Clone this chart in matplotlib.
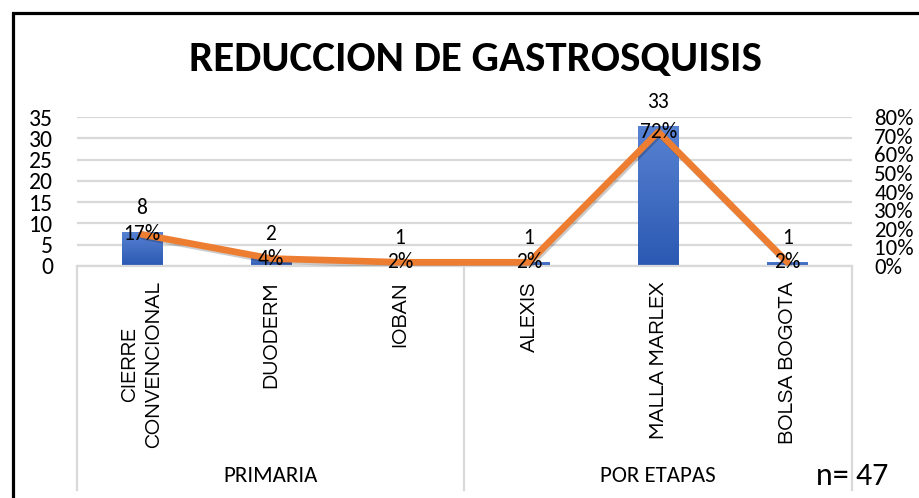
import numpy as np
import matplotlib
matplotlib.use('Agg')
import matplotlib.pyplot as plt
import matplotlib.patheffects as pe
from matplotlib import font_manager as fm
from matplotlib.colors import LinearSegmentedColormap
from matplotlib.patches import Rectangle
from matplotlib.lines import Line2D

categorias = ['CIERRE\nCONVENCIONAL', 'DUODERM', 'IOBAN', 'ALEXIS', 'MALLA MARLEX', 'BOLSA BOGOTA']
grupos = ['PRIMARIA', 'POR ETAPAS']
casos = [8, 2, 1, 1, 33, 1]
porcentajes = [0.17, 0.04, 0.02, 0.02, 0.72, 0.02]
total = 47

instaladas = set(f.name for f in fm.fontManager.ttflist)


def fuentes(*nombres):
    lista = [n for n in nombres if n in instaladas]
    return lista + ['DejaVu Sans']


calibri = fuentes('Carlito', 'Liberation Sans')
gothic = fuentes('Questrial', 'Didact Gothic', 'Mulish')

azul_claro = '#5883D3'
azul_oscuro = '#2B58B2'
naranja = '#ED7D31'
gris = '#D9D9D9'

fig = plt.figure(figsize=(9.2, 4.98), dpi=100)
fig.patch.set_facecolor('white')

# marco exterior (solo se ven lados izquierdo y superior)
fig.patches.append(Rectangle((13.5 / 920, -0.1), 1.2, 1.1 - 13.5 / 498,
                             transform=fig.transFigure, fill=False,
                             edgecolor='black', linewidth=2.3, zorder=0))

ax = fig.add_axes([77 / 920, 1 - 266 / 498, 775 / 920, 149 / 498])
ax2 = ax.twinx()

x = np.arange(len(categorias))
bars = ax.bar(x, casos, width=0.31, color=azul_oscuro, zorder=2)

# degradado en las barras
cmap = LinearSegmentedColormap.from_list('az', [azul_oscuro, azul_claro])
grad = np.linspace(0, 1, 100).reshape(-1, 1)
for b in bars:
    bx, by = b.get_x(), b.get_y()
    im = ax.imshow(grad, cmap=cmap, origin='lower', aspect='auto',
                   extent=[bx, bx + b.get_width(), by, by + b.get_height()], zorder=2)
    im.set_clip_path(b)

ax.set_xlim(-0.5, len(categorias) - 0.5)
ax.set_ylim(0, 35)
ax.set_yticks(range(0, 36, 5))
ax.grid(axis='y', color=gris, linewidth=1.6, zorder=0)
ax.set_axisbelow(True)
for s in ['top', 'right', 'left']:
    ax.spines[s].set_visible(False)
ax.spines['bottom'].set_color(gris)
ax.spines['bottom'].set_linewidth(1.6)
ax.tick_params(axis='y', length=0, pad=17, labelsize=17)
for lab in ax.get_yticklabels():
    lab.set_family(calibri)

ax.set_xticks(x)
ax.set_xticklabels(categorias, rotation=90, family=gothic, fontsize=15.5, linespacing=1.35)
ax.tick_params(axis='x', length=0, pad=11)
for lab in ax.get_xticklabels():
    lab.set_multialignment('center')

# linea de porcentaje
ax2.plot(x, porcentajes, color=naranja, linewidth=4.8, solid_capstyle='round',
         solid_joinstyle='round', zorder=3,
         path_effects=[pe.SimpleLineShadow(offset=(1, -1.5), alpha=0.2), pe.Normal()])
ax2.set_ylim(0, 0.8)
ax2.set_yticks(np.arange(0, 0.81, 0.1))
ax2.set_yticklabels(['{:.0f}%'.format(v * 100) for v in np.arange(0, 0.81, 0.1)])
ax2.tick_params(axis='y', length=0, pad=16, labelsize=16.5)
for lab in ax2.get_yticklabels():
    lab.set_family(calibri)
for s in ax2.spines.values():
    s.set_visible(False)

# etiquetas de datos
for xi, c in zip(x, casos):
    ax.annotate(str(c), (xi, c), xytext=(0, 17), textcoords='offset points',
                ha='center', va='center', fontsize=15.5, family=calibri, zorder=5)
for xi, p in zip(x, porcentajes):
    ax2.annotate('{:.0f}%'.format(p * 100), (xi, p), ha='center', va='center',
                 fontsize=15.5, family=calibri, zorder=5)

# lineas verticales del eje de categorias
for xv in [0.0, 0.5, 1.0]:
    ax.add_line(Line2D([xv, xv], [0, -(490 - 266) / 149], transform=ax.transAxes,
                       color=gris, linewidth=1.6, clip_on=False))

# etiquetas de grupo
for i, g in enumerate(grupos):
    ax.text(0.25 + 0.5 * i, -(476 - 266) / 149, g, transform=ax.transAxes,
            ha='center', va='center', fontsize=16.5, family=calibri)

fig.text(852 / 920, 1 - 476 / 498, 'n= {}'.format(total), ha='center', va='center',
         fontsize=23, family=calibri)

fig.text(475 / 920, 1 - 60 / 498, 'REDUCCION DE GASTROSQUISIS', ha='center', va='center',
         fontsize=31, fontweight='bold', family=calibri)

fig.savefig('out.png', dpi=100)
